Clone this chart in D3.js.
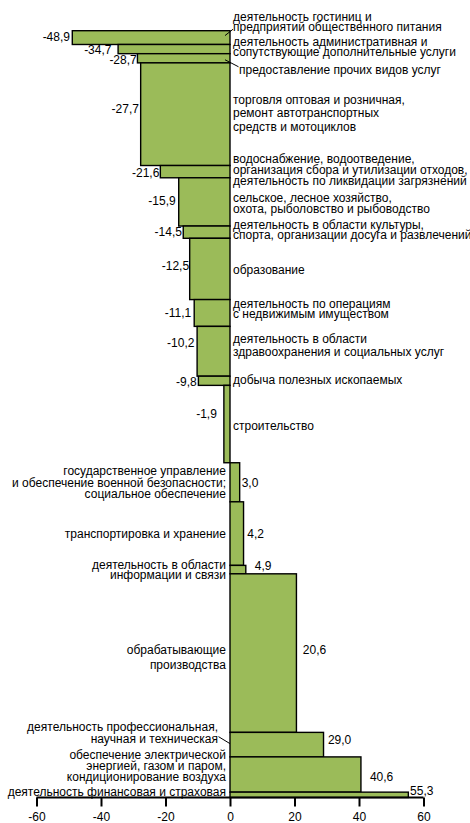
<!DOCTYPE html>
<html><head><meta charset="utf-8">
<script src="https://cdn.jsdelivr.net/npm/d3@7"></script>
<style>
html,body{margin:0;padding:0;background:#fff;}
svg{display:block;}
text{font-family:"Liberation Sans",Arial,sans-serif;fill:#000;}
</style></head>
<body>
<svg id="chart" width="470" height="823"></svg>
<script>
// ---- data ----
const categories = [
  "деятельность гостиниц и\nпредприятий общественного питания",
  "деятельность административная и\nсопутствующие дополнительные услуги",
  "предоставление прочих видов услуг",
  "торговля оптовая и розничная,\nремонт автотранспортных\nсредств и мотоциклов",
  "водоснабжение, водоотведение,\nорганизация сбора и утилизации отходов,\nдеятельность по ликвидации загрязнений",
  "сельское, лесное хозяйство,\nохота, рыболовство и рыбоводство",
  "деятельность в области культуры,\nспорта, организации досуга и развлечений",
  "образование",
  "деятельность по операциям\nс недвижимым имуществом",
  "деятельность в области\nздравоохранения и социальных услуг",
  "добыча полезных ископаемых",
  "строительство",
  "государственное управление\nи обеспечение военной безопасности;\nсоциальное обеспечение",
  "транспортировка и хранение",
  "деятельность в области\nинформации и связи",
  "обрабатывающие\nпроизводства",
  "деятельность профессиональная,\nнаучная и техническая",
  "обеспечение электрической\nэнергией, газом и паром,\nкондиционирование воздуха",
  "деятельность финансовая и страховая"
];
const values = [-48.9, -34.7, -28.7, -27.7, -21.6, -15.9, -14.5, -12.5, -11.1, -10.2, -9.8, -1.9, 3.0, 4.2, 4.9, 20.6, 29.0, 40.6, 55.3];
// bar thickness = share (weight) of each activity, %
const shares = [1.8, 1.2, 1.2, 13.4, 1.6, 6.3, 1.6, 8.0, 3.5, 6.5, 1.2, 10.1, 5.1, 8.3, 1.1, 20.7, 3.2, 4.6, 0.7];
const xTicks = [-60, -40, -20, 0, 20, 40, 60];

// ---- layout nudges (label placement only) ----
const catDy   = [-16, -2, 11, -1, -2, 1, -2, 1, -4, -6, -1.5, 2, 0, 0, 0, 4, -12, -9, -3];
const catLh   = [10.7, 10, 11, 13.3, 11.3, 11, 10, 11, 10, 12.7, 11, 11, 11.7, 11, 10.7, 14.3, 11.4, 10.8, 11];
const valDy   = [-1, 1, 1.5, -5, 1, -1.5, 0, -3, 0, -9, 1, -10, 0, 0, -4, -3, -5, 2.5, -4];
const valGap  = [2.3, 6.6, 0.7, 1.7, 1, 3, 1.3, 0.6, 3, 2.7, 1.6, 7, 2, 3.7, 9, 6.4, 4.4, 9, 1.7];
const leaders = {0: true, 2: true, 16: true};

const svg = d3.select("#chart");
const x = d3.scaleLinear().domain([-60, 60]).range([36.5, 423.5]);
const total = d3.sum(shares);
const y = d3.scaleLinear().domain([0, total]).range([30.7, 797.5]);

const cum = d3.cumsum(shares);
const bars = values.map((v, i) => ({
  v, i, label: categories[i],
  y0: y(i === 0 ? 0 : cum[i - 1]), y1: y(cum[i])
}));

const fmt = v => d3.format(".1f")(v).replace("−", "-").replace(".", ",");

const g = svg.append("g");
g.selectAll("rect.bar").data(bars).join("rect")
  .attr("class", "bar")
  .attr("x", d => x(Math.min(0, d.v)))
  .attr("width", d => Math.abs(x(d.v) - x(0)))
  .attr("y", d => d.y0)
  .attr("height", d => d.y1 - d.y0)
  .attr("fill", "#9BBB59")
  .attr("stroke", "#000")
  .attr("stroke-width", 1.4);

// value labels
g.selectAll("text.val").data(bars).join("text")
  .attr("class", "val")
  .attr("x", d => d.v < 0 ? x(d.v) - valGap[d.i] : x(d.v) + valGap[d.i])
  .attr("y", d => (d.y0 + d.y1) / 2 + valDy[d.i] + 4.3)
  .attr("text-anchor", d => d.v < 0 ? "end" : "start")
  .attr("font-size", 12)
  .text(d => fmt(d.v));

// category labels
const cat = g.selectAll("text.cat").data(bars).join("text")
  .attr("class", "cat")
  .attr("font-size", 12)
  .attr("text-anchor", d => d.v < 0 ? "start" : "end");
cat.each(function(d) {
  const lines = d.label.split("\n");
  const lh = catLh[d.i];
  const cy = (d.y0 + d.y1) / 2 + catDy[d.i];
  const top = cy - (lines.length - 1) * lh / 2;
  const tx = d.v < 0 ? x(0) + (leaders[d.i] && d.i === 2 ? 9 : 3) : x(0) - 4 - (leaders[d.i] ? 8 : 0);
  d3.select(this).selectAll("tspan").data(lines).join("tspan")
    .attr("x", tx)
    .attr("y", (l, k) => top + k * lh + 4.3)
    .text(l => l);
});

// leader lines
const leaderData = bars.filter(d => leaders[d.i]);
g.selectAll("line.leader").data(leaderData).join("line")
  .attr("class", "leader")
  .attr("stroke", "#000").attr("stroke-width", 1)
  .attr("x1", d => d.i === 0 ? x(0) + 3 : d.i === 2 ? x(0) + 8.5 : x(0) - 11.5)
  .attr("y1", d => {
    const lines = d.label.split("\n");
    const cy = (d.y0 + d.y1) / 2 + catDy[d.i];
    const lh = catLh[d.i];
    if (d.i === 2) return cy - 2.5;
    return cy + (lines.length - 1) * lh / 2 - 1.7 + (d.i === 0 ? 4 : 0);
  })
  .attr("x2", d => d.i === 16 ? x(0) : x(0) - 5)
  .attr("y2", d => (d.y0 + d.y1) / 2 + (d.i === 0 ? -2 : d.i === 2 ? 1.5 : -1));

// x axis
const axis = d3.axisBottom(x).tickValues(xTicks).tickSize(9).tickPadding(6)
  .tickFormat(d => String(d));
const ax = svg.append("g").attr("transform", `translate(0,${y(total)})`).call(axis);
ax.select(".domain").attr("stroke", "#000").attr("stroke-width", 2)
  .attr("d", `M${x(-60)},0H${x(60)}`);
ax.selectAll(".tick line").attr("stroke", "#000").attr("stroke-width", 2);
ax.selectAll(".tick text").attr("font-size", 12)
  .attr("font-family", '"Liberation Sans",Arial,sans-serif').attr("fill", "#000");
</script>
</body></html>
